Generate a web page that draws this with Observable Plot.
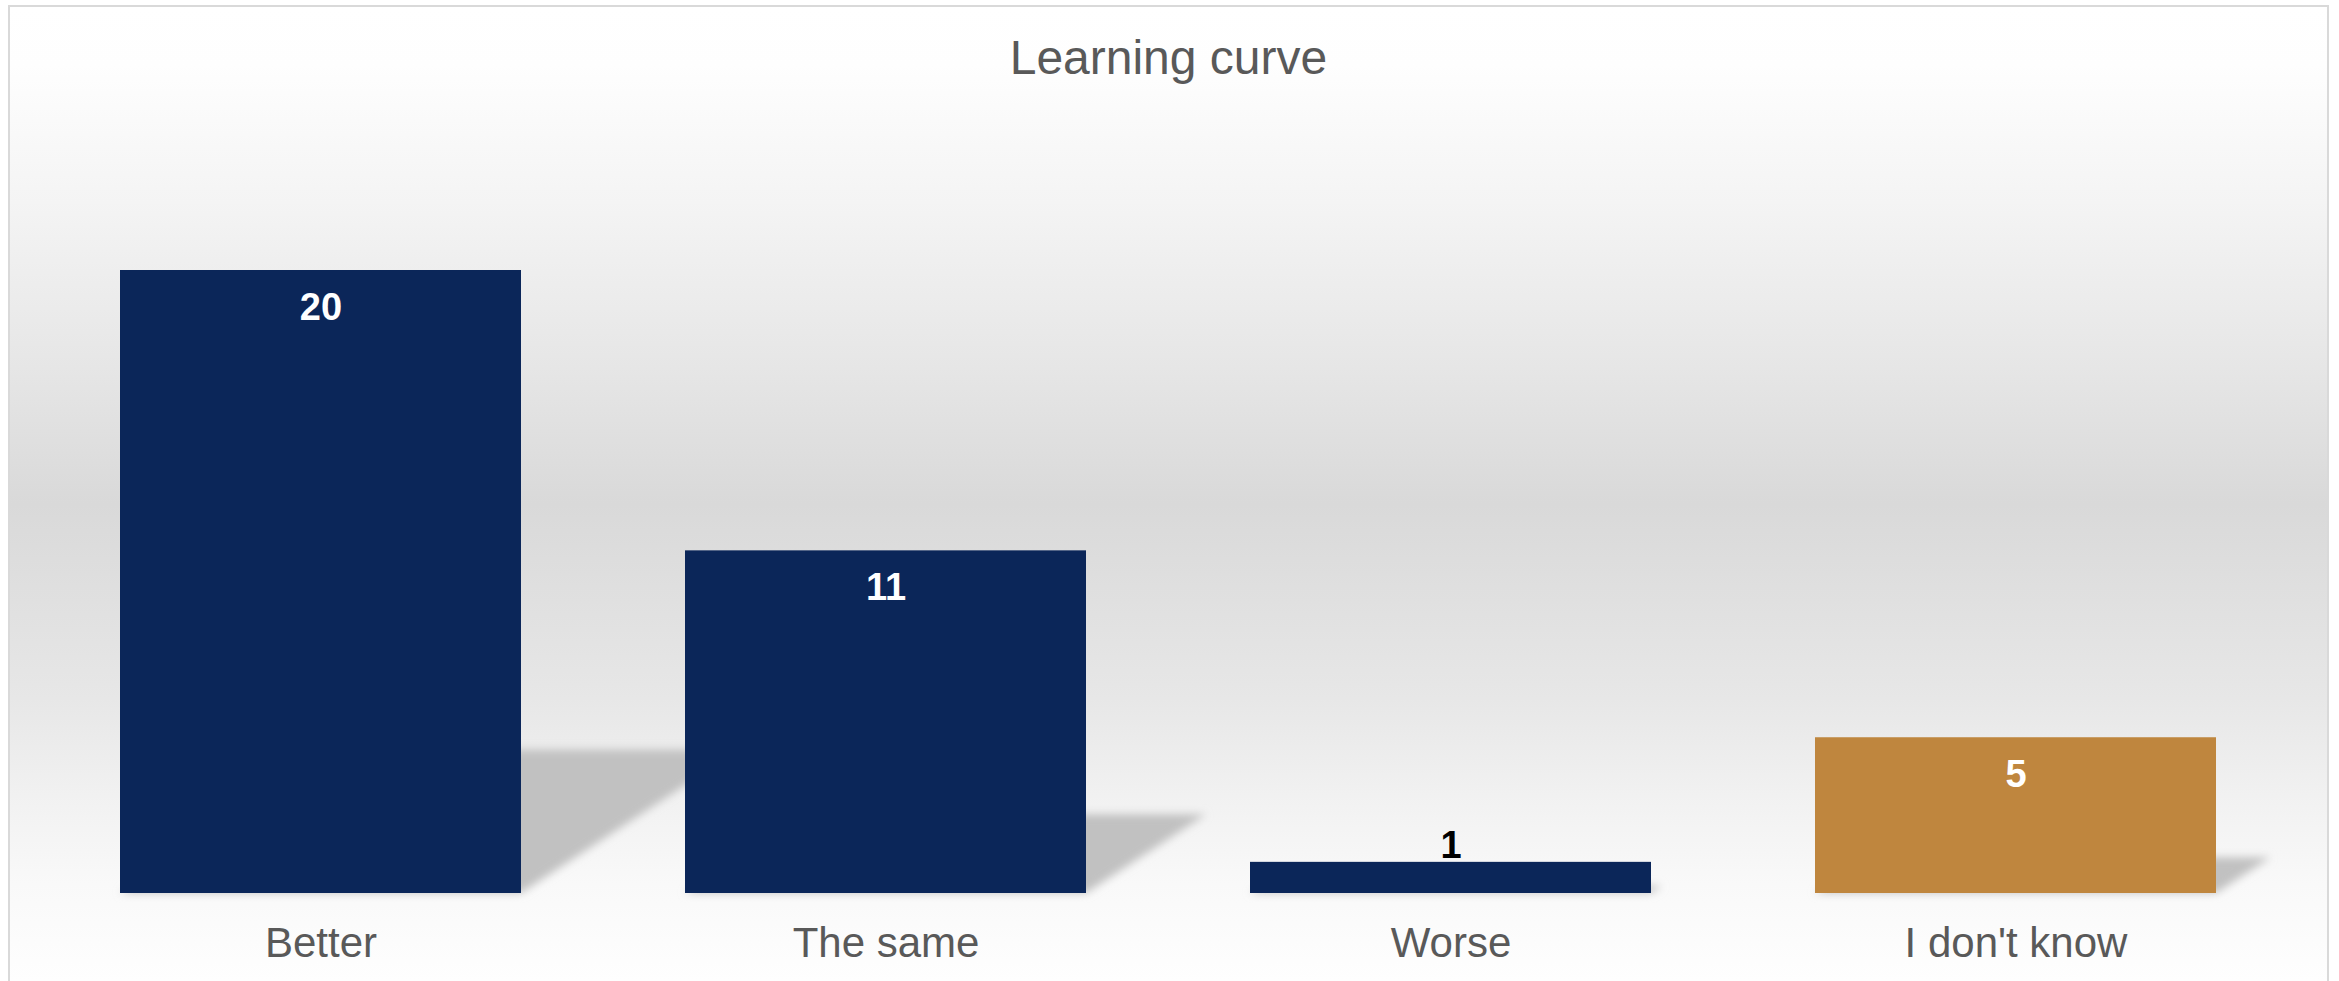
<!DOCTYPE html>
<html>
<head>
<meta charset="utf-8">
<script src="https://cdn.jsdelivr.net/npm/d3@7"></script>
<script src="https://cdn.jsdelivr.net/npm/@observablehq/plot@0.6"></script>
<style>
  html, body { margin: 0; padding: 0; background: #ffffff; }
  #chart { position: absolute; left: 8px; top: 5px; width: 2317px; border: 2px solid #d9d9d9; border-bottom: none; }
  #chart svg { display: block; }
</style>
</head>
<body>
<div id="chart"></div>
<script>
const title = ["Learning curve"];
const categories = ["Better", "The same", "Worse", "I don't know"];
const values = [20, 11, 1, 5];
const colors = ["#0b2659", "#0b2659", "#0b2659", "#bf863e"];

const data = categories.map((c, i) => ({category: c, value: values[i], color: colors[i]}));

const SHEAR = 0.35, SQUASH = 0.23;
function shadowRender(index, scales, vals, dimensions, context, next) {
  const g = next(index, scales, vals, dimensions, context);
  const y0 = scales.y(0);
  const ns = "http://www.w3.org/2000/svg";
  const outer = document.createElementNS(ns, "g");
  outer.setAttribute("filter", "url(#barShadowBlur)");
  const inner = document.createElementNS(ns, "g");
  inner.setAttribute("transform", `matrix(1,0,${-SHEAR},${SQUASH},${SHEAR * y0},${(1 - SQUASH) * y0})`);
  inner.appendChild(g);
  outer.appendChild(inner);
  return outer;
}

const chart = Plot.plot({
  width: 2317,
  height: 974,
  marginLeft: 27.4,
  marginRight: 28.5,
  marginTop: 263,
  marginBottom: 88,
  style: {
    fontFamily: "'Liberation Sans', Arial, sans-serif",
    color: "#595959",
    background: "linear-gradient(to bottom, #ffffff 0%, #fefefe 6%, #f4f4f4 20%, #e6e6e6 37%, #d9d9d9 51%, #e7e7e7 71%, #f1f1f1 81%, #f9f9f9 90%, #fefefe 100%)",
    overflow: "visible"
  },
  x: {domain: categories, paddingInner: 0.2898, paddingOuter: 0.1449, align: 0.5, label: null},
  y: {domain: [0, 20], axis: null},
  color: {type: "identity"},
  marks: [
    Plot.barY(data, {x: "category", y: "value", fill: "#c1c1c1", render: shadowRender}),
    Plot.barY(data, {x: "category", y: "value", fill: "color"}),
    Plot.text(data.filter(d => d.value >= 3), {
      x: "category", y: "value", text: d => String(d.value),
      fill: "#ffffff", fontSize: 38, fontWeight: "bold", lineAnchor: "bottom", dy: 49
    }),
    Plot.text(data.filter(d => d.value < 3), {
      x: "category", y: "value", text: d => String(d.value),
      fill: "#000000", fontSize: 38, fontWeight: "bold", lineAnchor: "bottom", dy: -4
    }),
    Plot.axisX({tickSize: 0, tickPadding: 34, fontSize: 42, label: null}),
    Plot.text(title, {frameAnchor: "top", dy: -197, lineAnchor: "bottom", fontSize: 48, fill: "#595959", text: d => d})
  ]
});

const ns = "http://www.w3.org/2000/svg";
const defs = document.createElementNS(ns, "defs");
const filter = document.createElementNS(ns, "filter");
filter.setAttribute("id", "barShadowBlur");
filter.setAttribute("x", "-10%");
filter.setAttribute("y", "-20%");
filter.setAttribute("width", "120%");
filter.setAttribute("height", "140%");
const blur = document.createElementNS(ns, "feGaussianBlur");
blur.setAttribute("stdDeviation", "4");
filter.appendChild(blur);
defs.appendChild(filter);
chart.insertBefore(defs, chart.firstChild);

document.getElementById("chart").appendChild(chart);
</script>
</body>
</html>
